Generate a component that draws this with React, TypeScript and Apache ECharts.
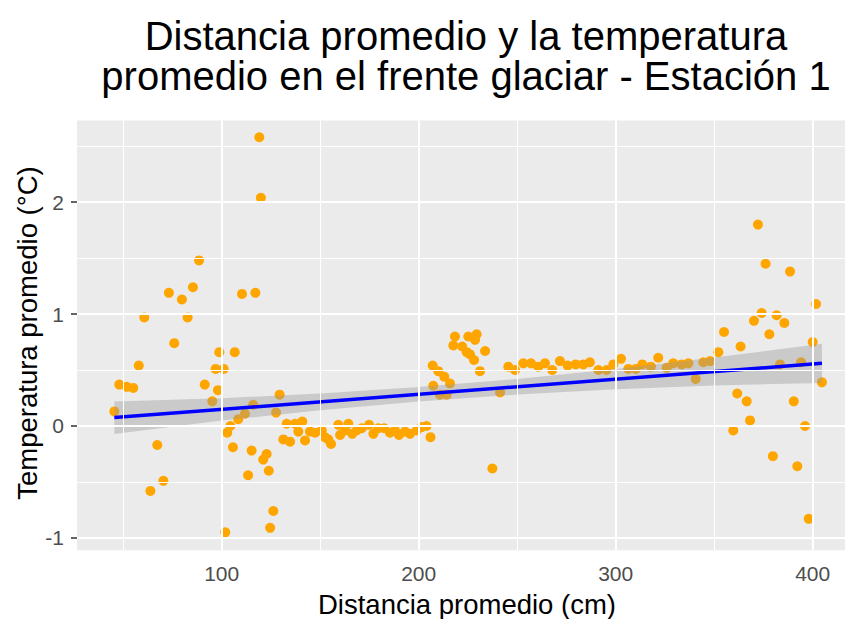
import React, { useEffect, useRef } from "react";
import * as echarts from "echarts";

// Scatter points: distance (cm) and mean temperature (°C)
const distance = [
  45.5, 48.0, 51.8, 55.1, 57.9, 60.7, 63.8, 67.3, 70.4, 73.2, 75.9, 79.8, 82.7, 85.4, 88.5, 91.4,
  95.2, 96.9, 98.1, 98.8, 101.0, 101.8, 102.8, 104.4, 105.7, 106.6, 108.4, 110.3, 111.8, 113.4,
  115.2, 116.0, 117.1, 119.1, 119.9, 121.1, 122.8, 123.9, 124.6, 126.2, 127.6, 129.4,
  131.3, 133.0, 134.7, 137.2, 138.9, 140.9, 142.3, 144.8, 147.4, 150.8, 152.4, 154.1, 155.5,
  159.2, 160.1, 162.6, 164.3, 166.3, 168.5, 171.1, 174.8, 177.0, 179.5, 182.5, 185.4, 188.0,
  190.0, 193.0, 195.6, 199.0, 201.5, 204.0, 206.0,
  207.1, 207.4, 210.0, 210.8, 213.0, 214.2, 215.9, 217.6, 218.4, 222.1, 224.4, 225.2, 226.0,
  228.1, 228.6, 229.4, 231.1, 233.7, 237.4, 241.3,
  245.5, 248.9, 253.1, 257.0, 260.7, 264.1, 267.8, 271.7, 275.6, 279.7, 283.6, 286.9, 291.2,
  295.4, 298.8, 302.7, 306.4, 310.2, 313.5, 317.9, 321.6, 325.9, 329.2, 333.5, 336.9, 340.6,
  344.5, 347.9, 352.1, 355.0,
  359.7, 361.7, 363.4, 366.5, 368.2, 370.2, 372.2, 374.1, 376.1, 378.0, 379.8, 381.7, 383.4,
  385.6, 388.5, 390.4, 392.2, 394.1, 396.1, 398.0, 400.0, 401.7, 404.7,
];
const temperature = [
  0.13, 0.37, 0.35, 0.34, 0.54, 0.97, -0.58, -0.17, -0.49, 1.19, 0.74, 1.13, 0.97, 1.24, 1.48, 0.37,
  0.22, 0.51, 0.32, 0.66, 0.51, -0.95, -0.06, 0.0, -0.19, 0.66, 0.06, 1.18, 0.11, -0.44,
  -0.22, 0.19, 1.19, 2.58, 2.04, -0.3, -0.25, -0.4, -0.91, -0.76, 0.12, 0.28,
  -0.12, 0.02, -0.14, 0.02, -0.05, 0.04, -0.13, -0.05, -0.06, -0.04, -0.1, -0.12, -0.16,
  0.01, -0.08, -0.04, 0.02, -0.07, -0.04, -0.02, 0.01, -0.07, -0.02, -0.02, -0.06, -0.04,
  -0.08, -0.05, -0.07, -0.04, -0.01, 0.0, -0.1,
  0.54, 0.36, 0.49, 0.28, 0.44, 0.28, 0.38, 0.72, 0.8, 0.71, 0.66, 0.8, 0.64,
  0.59, 0.77, 0.82, 0.49, 0.67, -0.38, 0.3,
  0.53, 0.5, 0.56, 0.56, 0.53, 0.56, 0.5, 0.58, 0.54, 0.55, 0.55, 0.57, 0.5,
  0.5, 0.55, 0.6, 0.51, 0.51, 0.55, 0.53, 0.61, 0.52, 0.56, 0.55, 0.56, 0.42,
  0.57, 0.58, 0.66, 0.84,
  -0.04, 0.29, 0.71, 0.22, 0.05, 0.94, 1.8, 1.01, 1.45, 0.82, -0.27, 0.99, 0.55,
  0.92, 1.38, 0.22, -0.36, 0.57, 0.0, -0.83, 0.75, 1.09, 0.39,
];

// Linear fit (as drawn) and its confidence band
const fitX = [45.5, 404.7];
const fitY = [0.075, 0.56];
const bandX = [45.5, 100, 150, 200, 250, 300, 350, 404.7];
const bandHigh = [0.219, 0.248, 0.291, 0.349, 0.421, 0.509, 0.612, 0.735];
const bandLow = [-0.071, 0.048, 0.141, 0.219, 0.281, 0.329, 0.362, 0.385];

// Axis breaks
const xTicks = [100, 200, 300, 400];
const xMinor = [50, 150, 250, 350];
const yTicks = [-1, 0, 1, 2];
const yMinor = [-0.5, 0.5, 1.5, 2.5];

const titleLines = ["Distancia promedio y la temperatura", "promedio en el frente glaciar - Estación 1"];
const xTitle = "Distancia promedio (cm)";
const yTitle = "Temperatura promedio (°C)";

const FONT = "Liberation Sans, Arial, sans-serif";

export default function App() {
  const ref = useRef<HTMLDivElement>(null);

  useEffect(() => {
    if (!ref.current) return;
    const chart = echarts.init(ref.current, undefined, { renderer: "svg" });

    const gridLeft = 77;
    const gridTop = 120.5;
    const gridHeight = 429.7;
    const gridWidth = 845 - gridLeft;

    const gridLines: any[] = [
      ...xMinor.map((v) => ({ xAxis: v, lineStyle: { color: "#ffffff", width: 1, type: "solid" } })),
      ...yMinor.map((v) => ({ yAxis: v, lineStyle: { color: "#ffffff", width: 1, type: "solid" } })),
      ...xTicks.map((v) => ({ xAxis: v, lineStyle: { color: "#ffffff", width: 2, type: "solid" } })),
      ...yTicks.map((v) => ({ yAxis: v, lineStyle: { color: "#ffffff", width: 2, type: "solid" } })),
    ];

    const points = distance.map((d, i) => [d, temperature[i]]);

    const option: any = {
      animation: false,
      backgroundColor: "#ffffff",
      grid: {
        left: gridLeft,
        top: gridTop,
        width: gridWidth,
        height: gridHeight,
        show: true,
        backgroundColor: "#EBEBEB",
        borderWidth: 0,
      },
      xAxis: {
        type: "value",
        min: 26.55,
        max: 416.4,
        splitLine: { show: false },
        axisLine: { show: false },
        axisTick: {
          show: true,
          customValues: xTicks,
          length: 6,
          lineStyle: { color: "#333333", width: 1.5 },
        },
        axisLabel: {
          customValues: xTicks,
          color: "#4D4D4D",
          fontSize: 21,
          fontFamily: FONT,
          margin: 13,
        },
      },
      yAxis: {
        type: "value",
        min: -1.11,
        max: 2.73,
        splitLine: { show: false },
        axisLine: { show: false },
        axisTick: {
          show: true,
          customValues: yTicks,
          length: 6,
          lineStyle: { color: "#333333", width: 1.5 },
        },
        axisLabel: {
          customValues: yTicks,
          color: "#4D4D4D",
          fontSize: 21,
          fontFamily: FONT,
          margin: 13,
        },
      },
      series: [
        {
          type: "line",
          data: [],
          z: 1,
          silent: true,
          markLine: {
            silent: true,
            symbol: ["none", "none"],
            label: { show: false },
            emphasis: { disabled: true },
            lineStyle: { type: "solid", color: "#ffffff" },
            data: gridLines,
          },
        },
        {
          type: "scatter",
          data: points,
          symbolSize: 10,
          itemStyle: { color: "#FFA500", opacity: 1 },
          z: 2,
        },
        {
          type: "custom",
          z: 3,
          silent: true,
          data: [[bandX[0], bandLow[0]]],
          renderItem: (params: any, api: any) => {
            const upper = bandX.map((x, i) => api.coord([x, bandHigh[i]]));
            const lower = bandX.map((x, i) => api.coord([x, bandLow[i]])).reverse();
            return {
              type: "polygon",
              shape: { points: [...upper, ...lower] },
              style: { fill: "rgba(153,153,153,0.4)" },
            };
          },
        },
        {
          type: "line",
          data: fitX.map((x, i) => [x, fitY[i]]),
          symbol: "none",
          lineStyle: { color: "#0000FF", width: 3.5 },
          z: 4,
          silent: true,
        },
      ],
      graphic: [
        {
          type: "text",
          x: 466,
          y: 56,
          style: {
            text: titleLines.join("\n"),
            fontSize: 40,
            lineHeight: 40,
            fontFamily: FONT,
            fill: "#000000",
            align: "center",
            verticalAlign: "middle",
          },
        },
        {
          type: "text",
          x: 467,
          y: 604,
          style: { text: xTitle, fontSize: 27.5, fontFamily: FONT, fill: "#000000", align: "center", verticalAlign: "middle" },
        },
        {
          type: "text",
          x: 27,
          y: 333,
          rotation: Math.PI / 2,
          style: { text: yTitle, fontSize: 27.5, fontFamily: FONT, fill: "#000000", align: "center", verticalAlign: "middle" },
        },
      ],
    };

    chart.setOption(option);
    return () => {
      chart.dispose();
    };
  }, []);

  return (
    <div
      ref={ref}
      style={{ position: "fixed", left: 0, top: 0, width: 845, height: 619, background: "#ffffff" }}
    />
  );
}
